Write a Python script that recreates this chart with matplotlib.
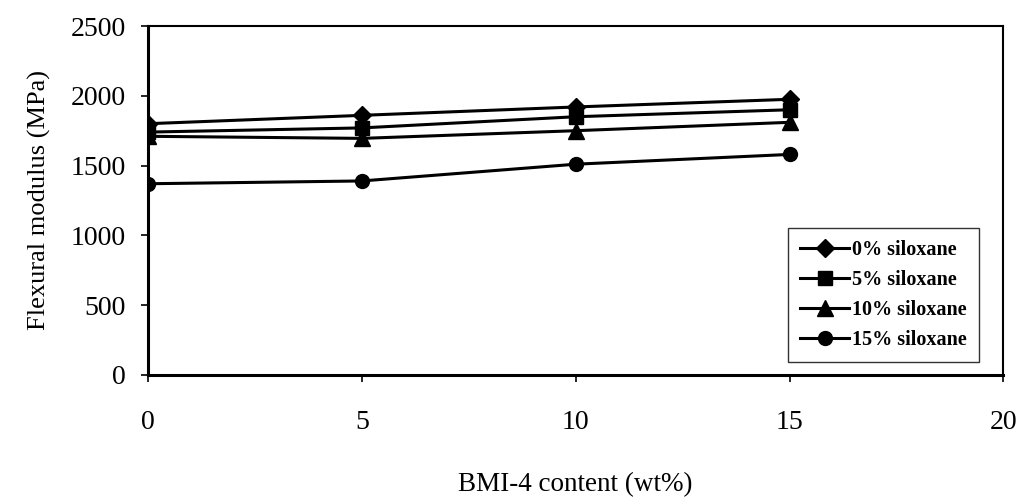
import matplotlib
matplotlib.use('Agg')
import matplotlib.pyplot as plt

# data
bmi_content = [0, 5, 10, 15]
sil_0 = [1800, 1860, 1920, 1975]
sil_5 = [1740, 1770, 1850, 1900]
sil_10 = [1710, 1695, 1750, 1810]
sil_15 = [1370, 1390, 1510, 1580]

series = [
    ('0% siloxane', sil_0, 'D', 9),
    ('5% siloxane', sil_5, 's', 10),
    ('10% siloxane', sil_10, '^', 11),
    ('15% siloxane', sil_15, 'o', 10),
]

plt.rcParams['font.family'] = ['Liberation Serif', 'DejaVu Serif']

fig = plt.figure(figsize=(10.27, 5.0), dpi=100)
ax = fig.add_axes([0.144, 0.25, 0.833, 0.698])

for lbl, vals, mk, ms in series:
    ax.plot(bmi_content, vals, color='black', lw=2.2, marker=mk, ms=ms,
            label=lbl)

ax.set_xlim(0, 20)
ax.set_ylim(0, 2500)
ax.set_xticks([0, 5, 10, 15, 20])
ax.set_yticks([0, 500, 1000, 1500, 2000, 2500])
ax.tick_params(axis='both', labelsize=20, color='black', direction='out',
               length=5, width=1.2)
ax.tick_params(axis='x', pad=20)
ax.tick_params(axis='y', pad=11)
for sp in ax.spines.values():
    sp.set_linewidth(1.5)
ax.spines['left'].set_linewidth(2.2)
ax.spines['bottom'].set_linewidth(2.2)

ax.set_xlabel('BMI-4 content (wt%)', fontsize=19.5, labelpad=27)
ax.set_ylabel('Flexural modulus (MPa)', fontsize=19, labelpad=14)

leg = ax.legend(loc='lower right', bbox_to_anchor=(0.971, 0.037),
                prop={'weight': 'bold', 'size': 14.5}, frameon=True,
                fancybox=False, edgecolor='black', handlelength=2.4,
                borderpad=0.6, labelspacing=0.5, handletextpad=0.15,
                borderaxespad=0)
leg.get_frame().set_linewidth(1.0)

fig.savefig('out.png', dpi=100, facecolor='white')
